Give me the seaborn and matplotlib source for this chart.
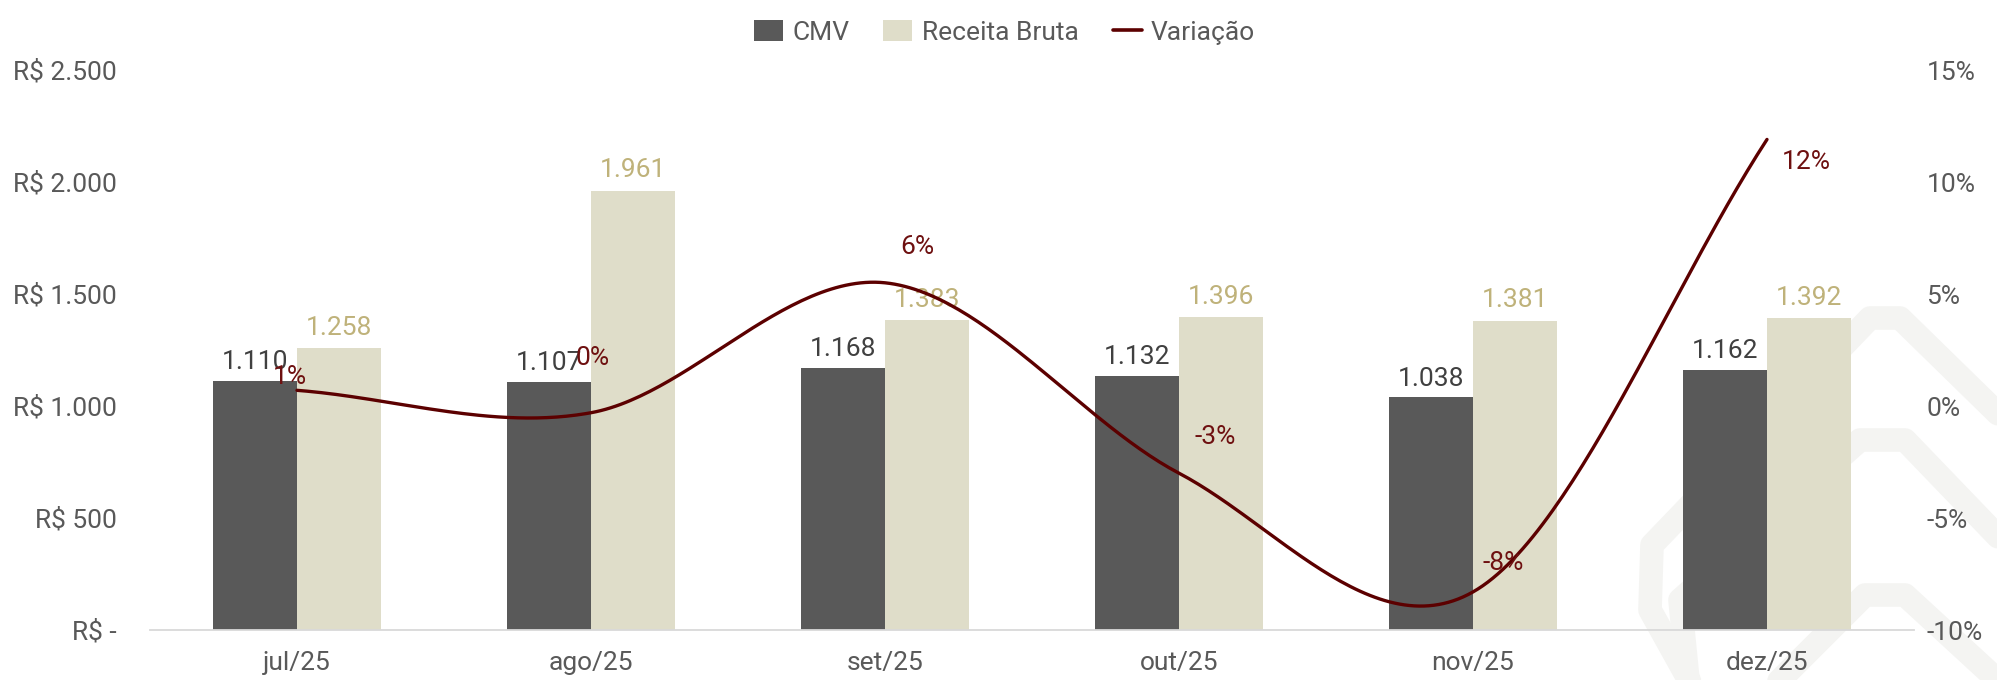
import numpy as np
import pandas as pd
import matplotlib
matplotlib.use("Agg")
import matplotlib.pyplot as plt
import seaborn as sns
from matplotlib.lines import Line2D
from matplotlib.patches import Patch

# ---------------- data ----------------
meses = ["jul/25", "ago/25", "set/25", "out/25", "nov/25", "dez/25"]
cmv = [1110, 1107, 1168, 1132, 1038, 1162]
receita = [1258, 1961, 1383, 1396, 1381, 1392]
variacao = [0.7, -0.3, 5.5, -3.0, -8.3, 11.9]          # %
var_rotulos = ["1%", "0%", "6%", "-3%", "-8%", "12%"]
y_ticks_esq = [0, 500, 1000, 1500, 2000, 2500]
y_ticks_dir = [-10, -5, 0, 5, 10, 15]

# ---------------- style ----------------
C_CMV = "#595959"
C_REC = "#DFDDC9"
C_REC_TXT = "#BFB27A"
C_LINE = "#5C0000"
C_LINE_TXT = "#6E1010"
C_TICK = "#595959"
FS = 19

sns.set_theme(style="white")
plt.rcParams["font.family"] = ["Roboto", "DejaVu Sans"]

W, H = 1997, 680
fig = plt.figure(figsize=(W / 100, H / 100), dpi=100)
fig.patch.set_facecolor("white")

# faint watermark logo (decorative), bottom right
def px(pts):
    xs = [p[0] / W for p in pts]
    ys = [1 - p[1] / H for p in pts]
    return xs, ys

wm = dict(color="#F4F4F2", lw=17, solid_capstyle="round", solid_joinstyle="round", zorder=0)
for pts in [
    [(1700, 700), (1650, 610), (1652, 545), (1870, 318), (1900, 318), (2030, 445)],
    [(1690, 700), (1680, 600), (1860, 440), (1905, 440), (2030, 570)],
    [(1760, 700), (1865, 595), (1905, 595), (2030, 710)],
]:
    xs, ys = px(pts)
    fig.add_artist(Line2D(xs, ys, transform=fig.transFigure, **wm))

ax = fig.add_axes([150 / W, 1 - 630 / H, (1914 - 150) / W, (630 - 70) / H])
ax.set_facecolor("none")
ax.set_zorder(2)

df = pd.DataFrame({
    "Mês": meses * 2,
    "Valor": cmv + receita,
    "Série": ["CMV"] * len(meses) + ["Receita Bruta"] * len(meses),
})
sns.barplot(data=df, x="Mês", y="Valor", hue="Série", palette=[C_CMV, C_REC],
            width=0.57, gap=0, saturation=1, errorbar=None, legend=False,
            linewidth=0, edgecolor="none", ax=ax)

fmt = lambda v: f"{v:,}".replace(",", ".")
ax.bar_label(ax.containers[0], labels=[fmt(v) for v in cmv], padding=5,
             color="#404040", fontsize=FS)
ax.bar_label(ax.containers[1], labels=[fmt(v) for v in receita], padding=6,
             color=C_REC_TXT, fontsize=FS)

ax.set_ylim(0, 2500)
ax.set_xlim(-0.5, len(meses) - 0.5)
ax.set_yticks(y_ticks_esq)
ax.set_yticklabels(["R$ -" if v == 0 else f"R$ {fmt(v)}" for v in y_ticks_esq])
ax.set_xlabel("")
ax.set_ylabel("")
ax.tick_params(axis="y", length=0, pad=24, labelsize=FS, labelcolor=C_TICK)
ax.tick_params(axis="x", length=0, pad=15, labelsize=FS, labelcolor=C_TICK)
for s in ["left", "right", "top"]:
    ax.spines[s].set_visible(False)
ax.spines["bottom"].set_color("#D9D9D9")
ax.spines["bottom"].set_linewidth(1.3)
ax.grid(False)

# ---------------- secondary axis: smoothed line ----------------
ax2 = ax.twinx()
ax2.set_zorder(3)
ax2.set_facecolor("none")

def catmull_rom(y, n=60):
    y = np.asarray(y, float)
    k = len(y)
    xs, ys = [], []
    for i in range(k - 1):
        p0 = y[i - 1] if i > 0 else y[i]
        p1, p2 = y[i], y[i + 1]
        p3 = y[i + 2] if i + 2 < k else y[i + 1]
        m1 = (p2 - p0) / (2 if i > 0 else 1)
        m2 = (p3 - p1) / (2 if i + 2 < k else 1)
        t = np.linspace(0, 1, n, endpoint=(i == k - 2))
        h00 = 2 * t**3 - 3 * t**2 + 1
        h10 = t**3 - 2 * t**2 + t
        h01 = -2 * t**3 + 3 * t**2
        h11 = t**3 - t**2
        xs.append(i + t)
        ys.append(h00 * p1 + h10 * m1 + h01 * p2 + h11 * m2)
    return np.concatenate(xs), np.concatenate(ys)

sx, sy = catmull_rom(variacao)
sns.lineplot(x=sx, y=sy, ax=ax2, color=C_LINE, lw=2.4, sort=False, estimator=None)

offsets = [(-7, 13), (2, 55), (32, 36), (36, 36), (30, 29), (39, -23)]
for i, (v, lab) in enumerate(zip(variacao, var_rotulos)):
    ax2.annotate(lab, (i, v), xytext=offsets[i], textcoords="offset pixels",
                 ha="center", va="center", color=C_LINE_TXT, fontsize=FS)

ax2.set_ylim(-10, 15)
ax2.set_yticks(y_ticks_dir)
ax2.set_yticklabels([f"{v}%" for v in y_ticks_dir])
ax2.tick_params(axis="y", length=0, pad=9, labelsize=FS, labelcolor=C_TICK)
ax2.set_ylabel("")
for s in ["left", "right", "top", "bottom"]:
    ax2.spines[s].set_visible(False)
ax2.grid(False)

# ---------------- legend ----------------
handles = [
    Patch(facecolor=C_CMV, edgecolor="none"),
    Patch(facecolor=C_REC, edgecolor="none"),
    Line2D([0], [0], color=C_LINE, lw=2.6),
]
leg = fig.legend(handles, ["CMV", "Receita Bruta", "Variação"], loc="upper center",
                 bbox_to_anchor=(0.503, 1.005), ncol=3, frameon=False, fontsize=FS,
                 handlelength=1.1, handleheight=0.8, handletextpad=0.35,
                 columnspacing=1.3)
for t in leg.get_texts():
    t.set_color(C_TICK)

fig.savefig("out.png", dpi=100, facecolor="white")
